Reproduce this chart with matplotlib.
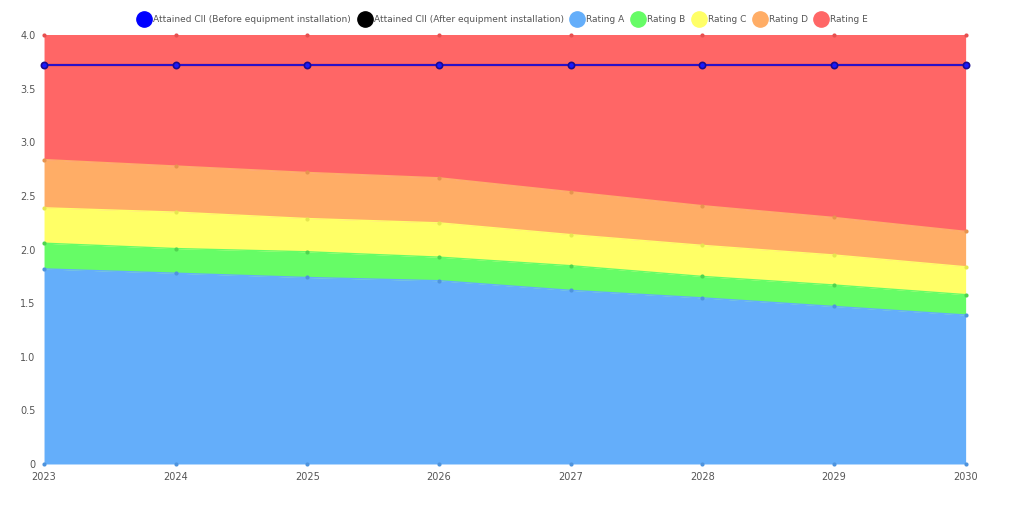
import matplotlib
matplotlib.use('Agg')
import matplotlib.pyplot as plt
from matplotlib.lines import Line2D

years = [2023, 2024, 2025, 2026, 2027, 2028, 2029, 2030]

# upper boundary of each rating band
rating_a = [1.82, 1.78, 1.74, 1.71, 1.62, 1.55, 1.47, 1.39]
rating_b = [2.06, 2.01, 1.98, 1.93, 1.85, 1.75, 1.67, 1.58]
rating_c = [2.39, 2.35, 2.29, 2.25, 2.14, 2.04, 1.95, 1.84]
rating_d = [2.84, 2.78, 2.72, 2.67, 2.54, 2.41, 2.30, 2.17]
rating_e = [4.0, 4.0, 4.0, 4.0, 4.0, 4.0, 4.0, 4.0]

cii_before = [3.72, 3.72, 3.72, 3.72, 3.72, 3.72, 3.72, 3.72]
cii_after = [3.72, 3.72, 3.72, 3.72, 3.72, 3.72, 3.72, 3.72]

band_names = ['Rating A', 'Rating B', 'Rating C', 'Rating D', 'Rating E']
band_colors = ['#64aefa', '#66fc66', '#ffff66', '#ffad66', '#ff6666']
dot_colors = ['#4f94dd', '#4fd44f', '#e6e64f', '#e6944f', '#e65050']

fig = plt.figure(figsize=(10.24, 5.11), dpi=100)
ax = fig.add_axes([0.043, 0.092, 0.9, 0.839])

bands = [rating_a, rating_b, rating_c, rating_d, rating_e]
lower = [0] * len(years)
for vals, col, dcol in zip(bands, band_colors, dot_colors):
    ax.fill_between(years, lower, vals, color=col, linewidth=0, zorder=1)
    ax.plot(years, vals, color=col, linewidth=1, zorder=2)
    ax.scatter(years, vals, s=9, color=dcol, zorder=3, linewidths=0, clip_on=False)
    lower = vals
ax.scatter(years, [0] * len(years), s=9, color=dot_colors[0], zorder=3, linewidths=0, clip_on=False)

ax.plot(years, cii_after, color='black', linewidth=1.5, zorder=4)
ax.plot(years, cii_before, color='#2a10c8', linewidth=1.5, marker='o', markersize=4.5,
        markerfacecolor='#1a1aff', markeredgecolor='#1a0a90', markeredgewidth=1.2,
        zorder=5, clip_on=False)

ax.set_xlim(2023, 2030)
ax.set_ylim(0, 4.0)
ax.set_xticks(years)
ax.set_xticklabels([str(y) for y in years])
ax.set_yticks([0, 0.5, 1.0, 1.5, 2.0, 2.5, 3.0, 3.5, 4.0])
ax.set_yticklabels(['0', '0.5', '1.0', '1.5', '2.0', '2.5', '3.0', '3.5', '4.0'])
ax.tick_params(length=0, labelsize=7, colors='#555555', pad=6)
for s in ax.spines.values():
    s.set_visible(False)

handles = [
    Line2D([], [], marker='o', linestyle='', markersize=11, markerfacecolor='#0000ff',
           markeredgecolor='#0000ff', label='Attained CII (Before equipment installation)'),
    Line2D([], [], marker='o', linestyle='', markersize=11, markerfacecolor='black',
           markeredgecolor='black', label='Attained CII (After equipment installation)'),
]
for name, col in zip(band_names, band_colors):
    handles.append(Line2D([], [], marker='o', linestyle='', markersize=11, markerfacecolor=col,
                          markeredgecolor=col, label=name))
fig.legend(handles=handles, loc='center', bbox_to_anchor=(0.49, 0.962), ncol=7, frameon=False,
           fontsize=6.5, handletextpad=0.0, columnspacing=0.5, labelcolor='#555555')

fig.savefig('out.png', dpi=100)
